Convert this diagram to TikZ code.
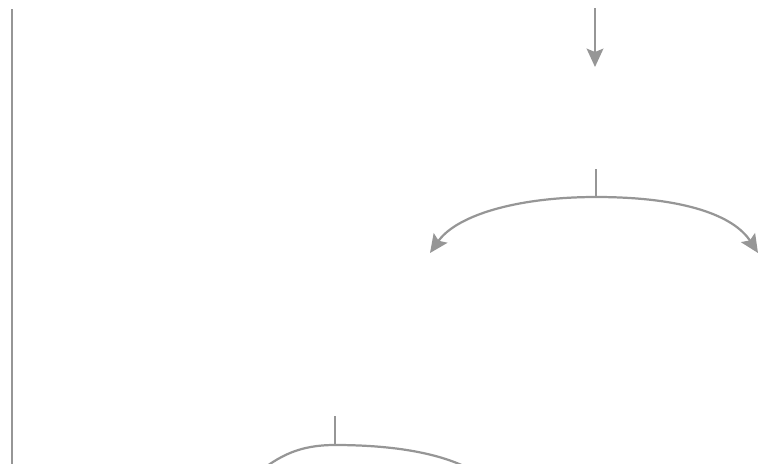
\documentclass[tikz,border=0pt]{standalone}
\definecolor{flowgray}{RGB}{150,150,150}
\usetikzlibrary{arrows.meta}
\tikzset{
  flowline/.style={draw=flowgray,line width=1.9pt},
  flowarrow/.style={flowline,-{Stealth[length=0.55cm,width=0.5cm,inset=0.1cm]}}
}
\begin{document}
\begin{tikzpicture}[x=0.03cm,y=-0.03cm]
  \useasboundingbox (0,0) rectangle (759,463);

  %% Left margin rule
  \coordinate (ruleTop) at (12,9);
  \coordinate (ruleBot) at (12,470);
  \draw[flowline] (ruleTop) -- (ruleBot);

  %% Incoming arrow
  \coordinate (inTop) at (595,8);
  \coordinate (inEnd) at (595,67);
  \draw[flowarrow] (inTop) -- (inEnd);

  %% Split into two branches
  \coordinate (splitTop) at (596,169);
  \coordinate (splitMid) at (596,197);
  \coordinate (branchL) at (430,253);
  \coordinate (branchR) at (758,253);
  \draw[flowline] (splitTop) -- (splitMid);
  \draw[flowarrow] (splitMid) .. controls (515,197) and (456,216) .. (branchL);
  \draw[flowarrow] (splitMid) .. controls (685,197) and (734,216) .. (branchR);

  %% Lower split (cut off at bottom)
  \coordinate (lowTop) at (335,416);
  \coordinate (lowMid) at (335,445);
  \coordinate (lowL) at (255,475);
  \coordinate (lowR) at (480,475);
  \draw[flowline] (lowTop) -- (lowMid);
  \draw[flowline] (lowMid) .. controls (300,445) and (280,455) .. (lowL);
  \draw[flowline] (lowMid) .. controls (400,445) and (450,455) .. (lowR);
\end{tikzpicture}
\end{document}
